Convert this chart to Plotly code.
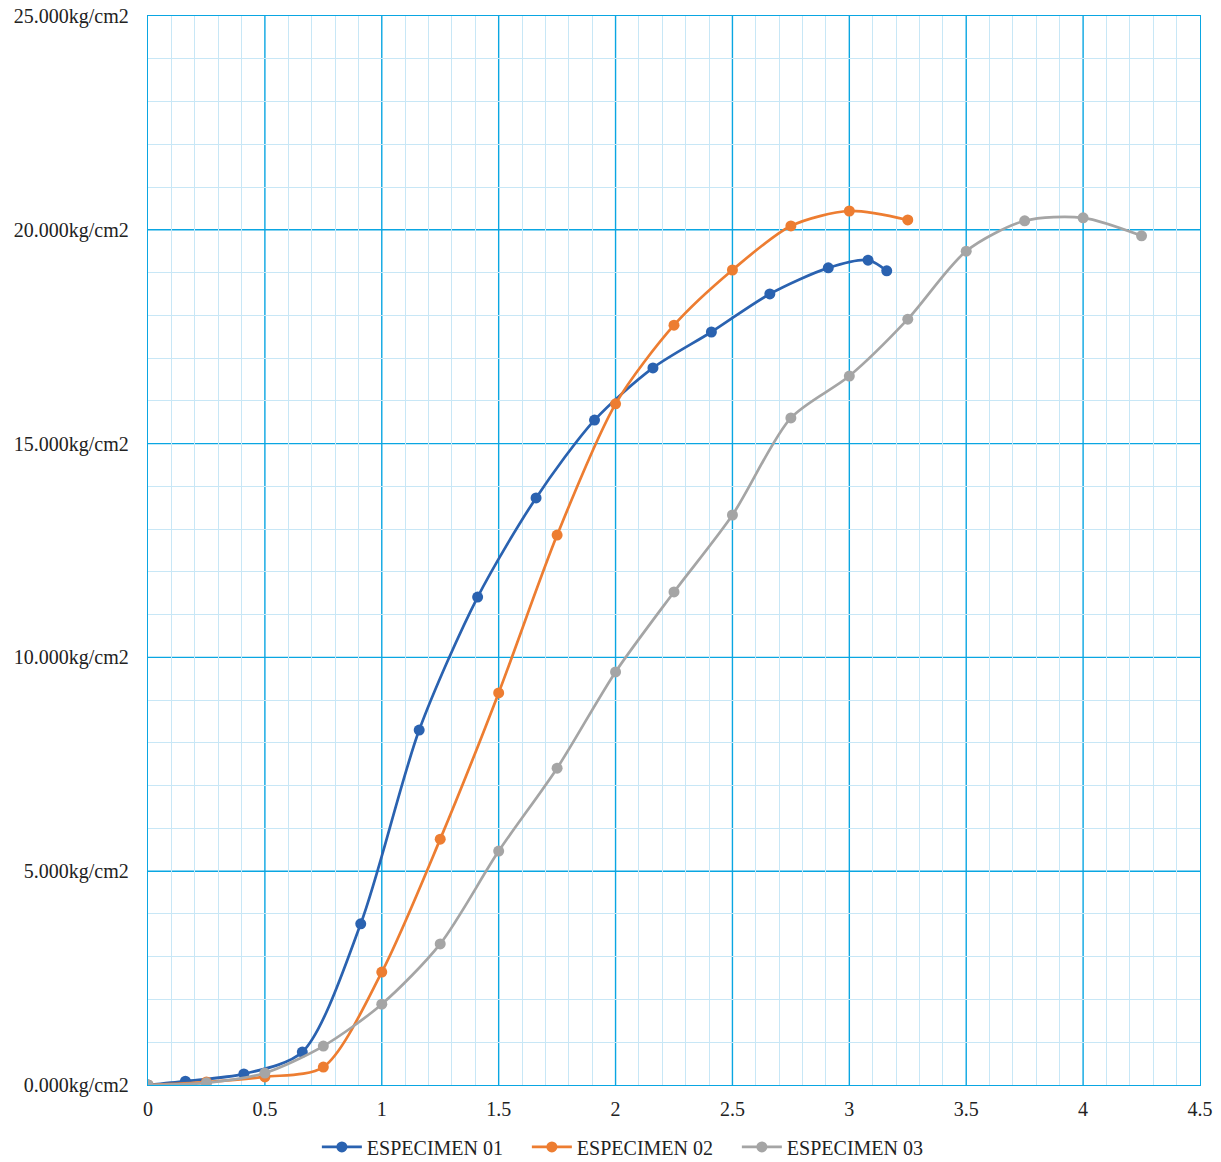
import plotly.graph_objects as go

# Data
x01 = [0, 0.16, 0.41, 0.66, 0.91, 1.16, 1.41, 1.66, 1.91, 2.16, 2.41, 2.66, 2.91, 3.08, 3.16]
y01 = [0, 0.09, 0.26, 0.77, 3.77, 8.30, 11.41, 13.73, 15.55, 16.77, 17.61, 18.50, 19.11, 19.29, 19.04]

x02 = [0, 0.25, 0.5, 0.75, 1.0, 1.25, 1.5, 1.75, 2.0, 2.25, 2.5, 2.75, 3.0, 3.25]
y02 = [0, 0.07, 0.19, 0.42, 2.64, 5.75, 9.17, 12.86, 15.93, 17.77, 19.06, 20.09, 20.44, 20.23]

x03 = [0, 0.25, 0.5, 0.75, 1.0, 1.25, 1.5, 1.75, 2.0, 2.25, 2.5, 2.75, 3.0, 3.25, 3.5, 3.75, 4.0, 4.25]
y03 = [0, 0.05, 0.28, 0.91, 1.89, 3.30, 5.47, 7.41, 9.66, 11.53, 13.33, 15.60, 16.58, 17.91, 19.50, 20.21, 20.28, 19.86]

names = ["ESPECIMEN 01", "ESPECIMEN 02", "ESPECIMEN 03"]
colors = ["#2a62b0", "#ed7d31", "#a5a5a5"]

y_tickvals = [0.0, 5.0, 10.0, 15.0, 20.0, 25.0]
y_ticktext = ["%.3fkg/cm2" % v for v in y_tickvals]
x_tickvals = [0.0, 0.5, 1.0, 1.5, 2.0, 2.5, 3.0, 3.5, 4.0, 4.5]
x_ticktext = ["0", "0.5", "1", "1.5", "2", "2.5", "3", "3.5", "4", "4.5"]

# minor grid positions (every 0.1 on x, every 1 on y, skipping major lines)
x_minor = [i / 10 for i in range(46) if i % 5]
y_minor = [float(i) for i in range(26) if i % 5]

major = "#0aa6e2"
minor = "#c8e7f6"
font = "Liberation Serif"
fsize = 20

fig = go.Figure()
for xs, ys, n, c in zip([x01, x02, x03], [y01, y02, y03], names, colors):
    fig.add_trace(go.Scatter(
        x=xs, y=ys, name=n, mode="lines+markers",
        line=dict(color=c, width=2.7, shape="spline", smoothing=0.8),
        marker=dict(color=c, size=11),
    ))

# major gridlines drawn as layout shapes on top of the minor grid
for v in x_tickvals[1:-1]:
    fig.add_shape(type="line", xref="x", yref="paper", x0=v, x1=v, y0=0, y1=1,
                  line=dict(color=major, width=1.4), layer="below")
for v in y_tickvals[1:-1]:
    fig.add_shape(type="line", xref="paper", yref="y", x0=0, x1=1, y0=v, y1=v,
                  line=dict(color=major, width=1.4), layer="below")

fig.update_layout(
    template="none",
    width=1221, height=1162,
    margin=dict(l=148, r=21, t=16, b=77),
    paper_bgcolor="white", plot_bgcolor="white",
    font=dict(family=font, size=fsize, color="#222222"),
    showlegend=True,
    legend=dict(orientation="h", xref="container", yref="container",
                x=0.5175, xanchor="center", y=0.013, yanchor="middle",
                font=dict(family=font, size=fsize, color="#222222"),
                itemwidth=40, entrywidth=155, entrywidthmode="pixels",
                tracegroupgap=0),
    xaxis=dict(range=[0, 4.5], tickmode="array", tickvals=x_tickvals, ticktext=x_ticktext,
               automargin=False, showgrid=False,
               minor=dict(tickmode="array", tickvals=x_minor, showgrid=True,
                          gridcolor=minor, gridwidth=1, ticks=""),
               showline=True, linecolor=major, linewidth=1.4, mirror=True,
               zeroline=False, ticks="", ticklen=0, ticklabelstandoff=6,
               tickfont=dict(family=font, size=fsize, color="#222222")),
    yaxis=dict(range=[0, 25], tickmode="array", tickvals=y_tickvals, ticktext=y_ticktext,
               automargin=False, showgrid=False,
               minor=dict(tickmode="array", tickvals=y_minor, showgrid=True,
                          gridcolor=minor, gridwidth=1, ticks=""),
               showline=True, linecolor=major, linewidth=1.4, mirror=True,
               zeroline=False, ticks="", ticklen=0, ticklabelstandoff=14,
               tickfont=dict(family=font, size=fsize, color="#222222")),
)

fig.write_html("out.html", config={"displayModeBar": False},
               post_script="document.body.style.margin='0';document.body.style.overflow='hidden';")
